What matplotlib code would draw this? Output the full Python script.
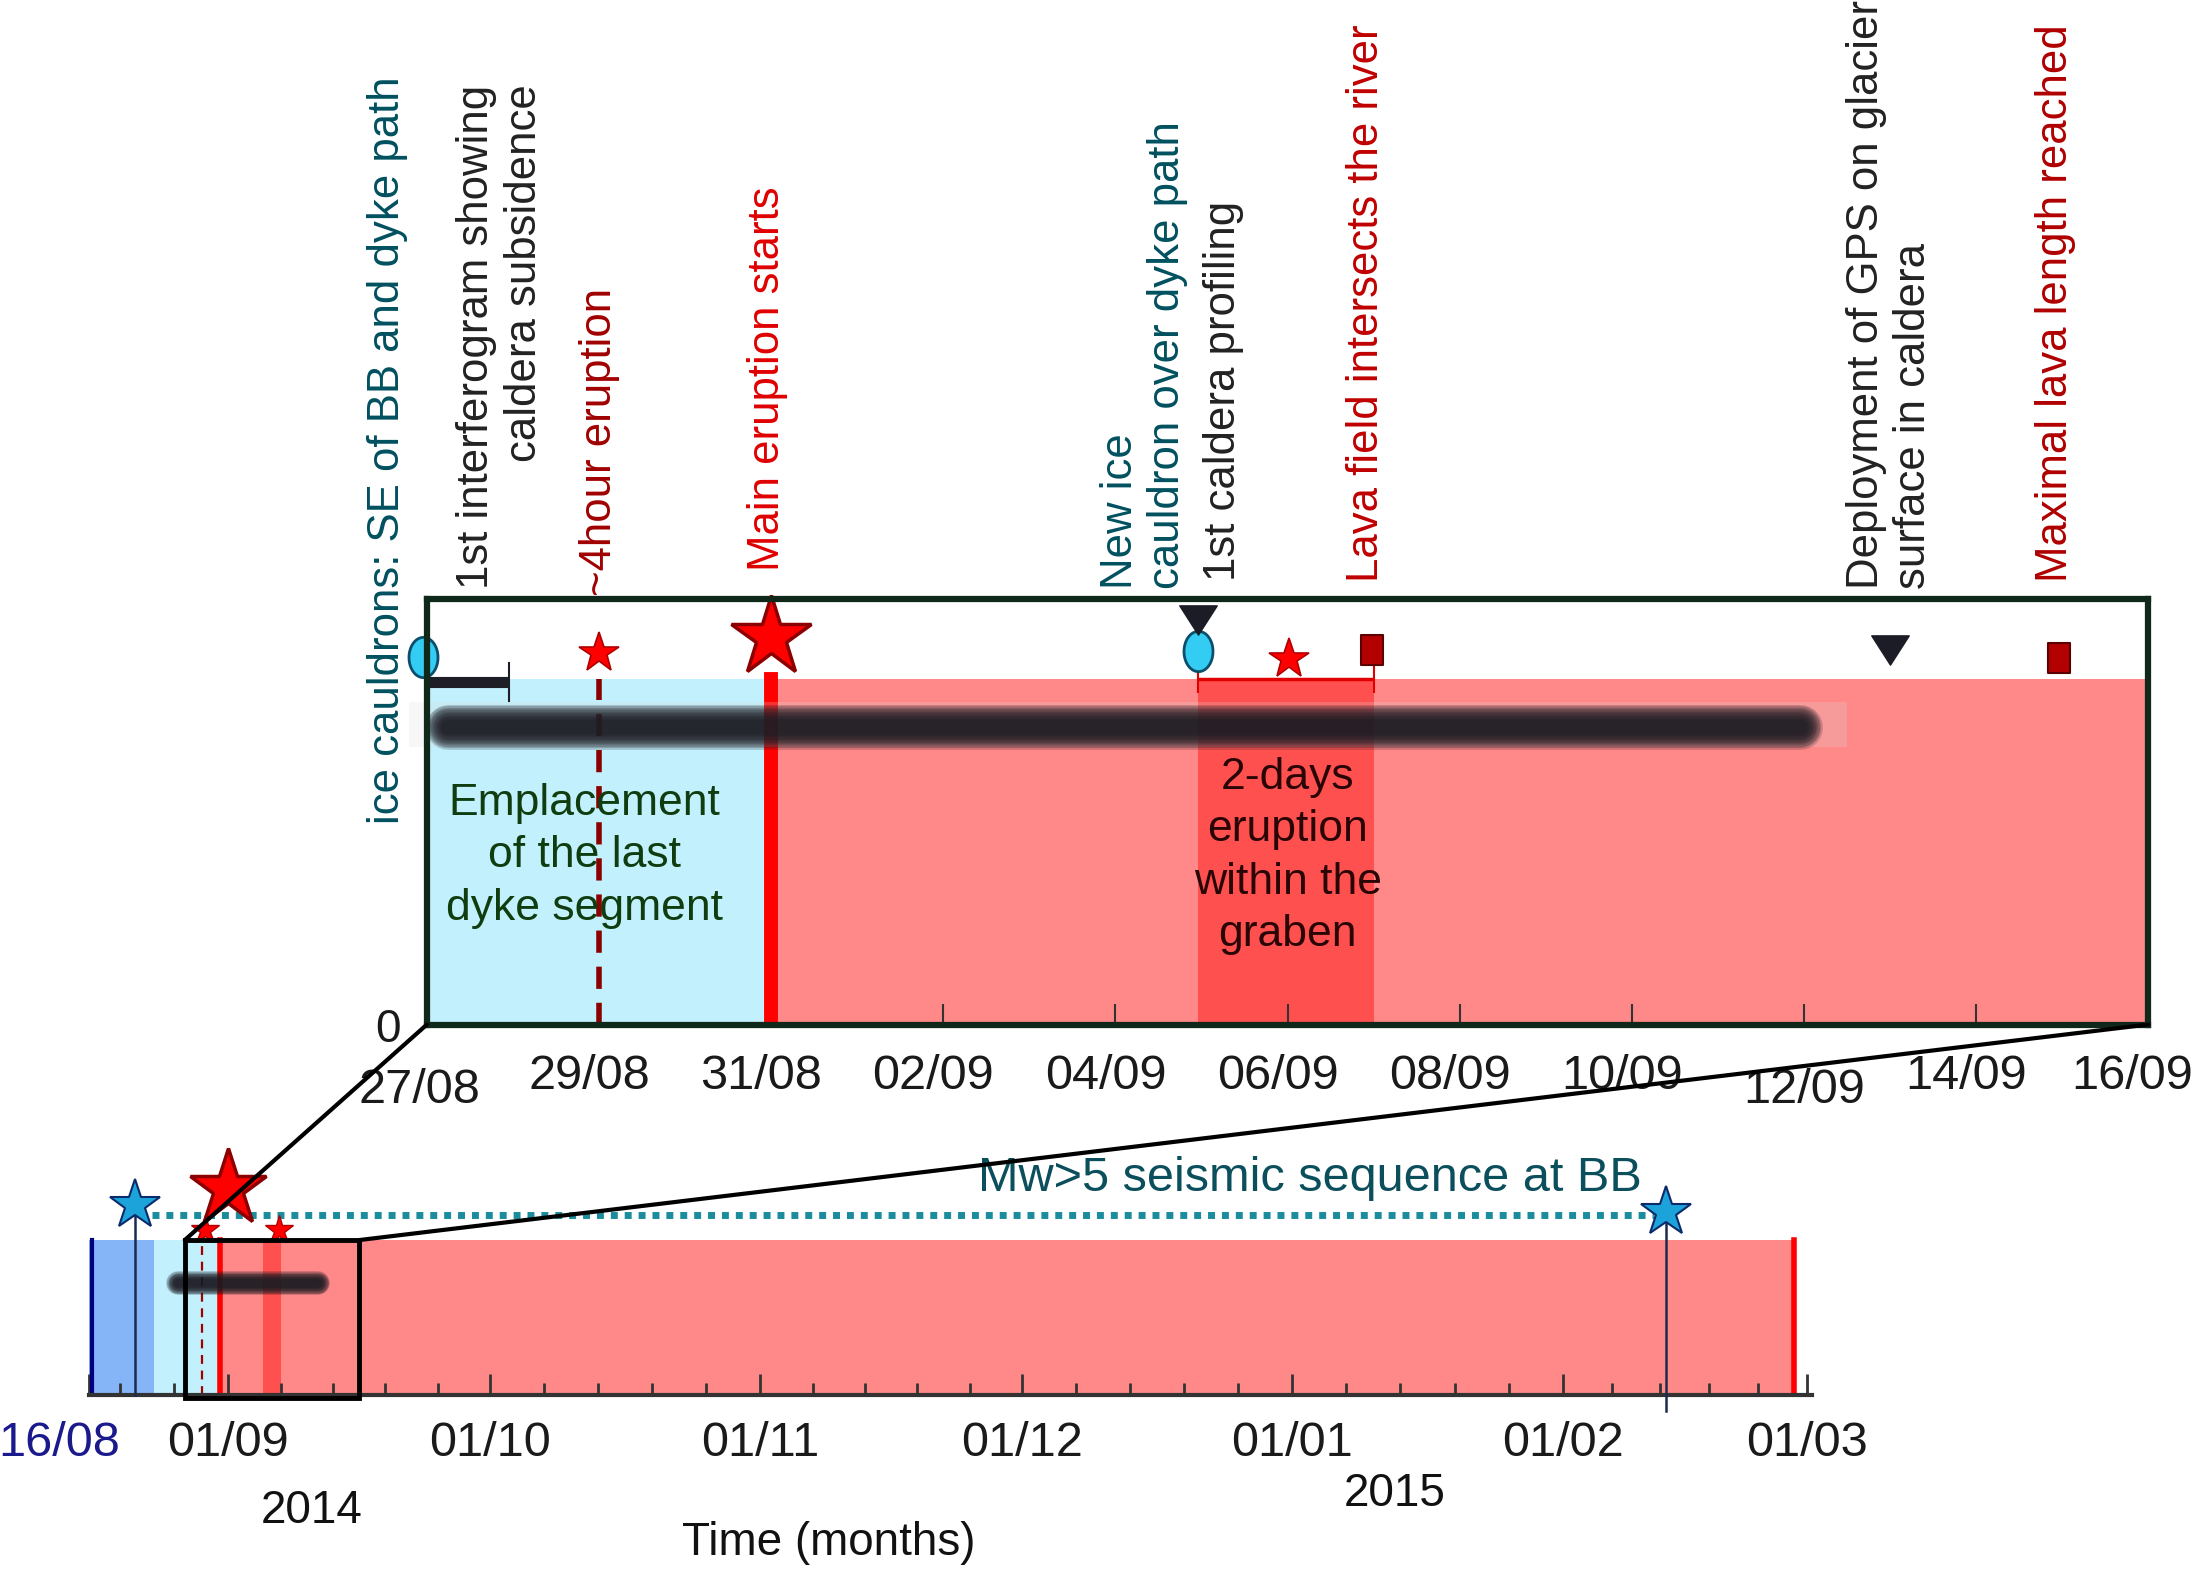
import matplotlib
matplotlib.use('Agg')
import numpy as np
import matplotlib.pyplot as plt
import matplotlib.dates as mdates
from matplotlib.path import Path
from matplotlib.patches import Rectangle, ConnectionPatch
from matplotlib.transforms import ScaledTranslation, blended_transform_factory

plt.rcParams['font.family'] = ['Liberation Sans', 'DejaVu Sans']

# ------------------------------------------------------------------ data
# overview (lower) axis
overview_start = '2014-08-16'
overview_end = '2015-03-01 15:00'
overview_tick_dates = ['2014-08-16', '2014-09-01', '2014-10-01', '2014-11-01',
                       '2014-12-01', '2015-01-01', '2015-02-01', '2015-03-01']
overview_tick_labels = ['16/08', '01/09', '01/10', '01/11', '01/12', '01/01', '01/02', '01/03']
month_starts = ['2014-08-01', '2014-09-01', '2014-10-01', '2014-11-01', '2014-12-01',
                '2015-01-01', '2015-02-01', '2015-03-01']

# phases (start, end)
pre_phase = ('2014-08-16', '2014-08-23 10:00')
dyke_phase = ('2014-08-23 10:00', '2014-08-31')
main_eruption = ('2014-08-31', '2015-02-27 12:00')
graben_eruption = ('2014-09-04 23:00', '2014-09-07 00:00')
intrusion_start = '2014-08-16 10:00'
short_eruption = '2014-08-29'
overview_big_star = '2014-09-01'
overview_small_stars = ['2014-08-29 08:00', '2014-09-06 18:00']
seismic_stars = ['2014-08-21 08:00', '2015-02-12 21:00']
seismic_line = ('2014-08-23 06:00', '2015-02-11 12:00')
blur_overview = ('2014-08-26 06:00', '2014-09-11 06:00')

# inset (zoom) window
inset_start = '2014-08-27'
inset_end = '2014-09-16'
inset_tick_dates = ['2014-08-27', '2014-08-29', '2014-08-31', '2014-09-02', '2014-09-04',
                    '2014-09-06', '2014-09-08', '2014-09-10', '2014-09-12', '2014-09-14',
                    '2014-09-16']
inset_tick_labels = ['27/08', '29/08', '31/08', '02/09', '04/09', '06/09', '08/09',
                     '10/09', '12/09', '14/09', '16/09']

# inset events
cauldron_dates = ['2014-08-26 23:00', '2014-09-04 23:00']
cauldron_y = [0.864, 0.877]
triangle_dates = ['2014-09-04 23:00', '2014-09-13 00:00']
triangle_y = [0.95, 0.88]
square_dates = ['2014-09-06 23:30', '2014-09-14 23:00']
square_y = [0.88, 0.86]
small_star_dates = ['2014-08-29 00:00', '2014-09-06 00:30']
small_star_y = [0.874, 0.858]
big_star_date = '2014-08-31'
big_star_y = 0.91
interferogram_bar = ('2014-08-27', '2014-08-27 23:00')
blur_inset = ('2014-08-27 06:00', '2014-09-11 23:00')

inset_labels = [
    "ice cauldrons: SE of BB and dyke path",
    "1st interferogram showing\ncaldera subsidence",
    "~4hour eruption",
    "Main eruption starts",
    "New ice\ncauldron over dyke path",
    "1st caldera profiling",
    "Lava field intersects the river",
    "Deployment of GPS on glacier\nsurface in caldera",
    "Maximal lava length reached",
]
inset_label_dates = ['2014-08-26 13:00', '2014-08-27 20:30', '2014-08-29 00:00',
                     '2014-08-30 23:00', '2014-09-04 08:00', '2014-09-05 06:00',
                     '2014-09-06 22:00', '2014-09-13 00:00', '2014-09-14 22:00']

TEAL = '#00505f'
DARK = '#222222'
inset_label_colors = [TEAL, DARK, '#a00000', '#e00000', TEAL, DARK, '#c00000', DARK, '#b00000']
inset_label_y = [0.47, 2.209, 1.008, 1.066, 1.023, 1.043, 1.040, 1.023, 1.040]
inset_label_va = ['bottom', 'top', 'bottom', 'bottom', 'bottom', 'bottom', 'bottom', 'bottom', 'bottom']
inset_label_ma = ['left', 'right', 'left', 'left', 'left', 'left', 'left', 'left', 'left']


def d(s):
    return mdates.date2num(np.datetime64(s))


# ------------------------------------------------------------------ colors
LIGHT_BLUE = '#c2f0fc'
PRE_BLUE = '#86b5f7'
PINK = '#ff8888'
DARK_PINK = '#ff5050'
RED = '#ff0000'
DARKRED = '#8b0000'
STAR_BLUE = '#1ca3da'

# custom markers
th = np.linspace(0, 2 * np.pi, 80)
ellipse_marker = Path(np.column_stack([0.72 * np.cos(th), np.sin(th)]), closed=False)
tri_marker = Path([(-1, 0.78), (1, 0.78), (0, -0.78), (-1, 0.78)], closed=True)
rect_marker = Path([(-0.7, -1), (0.7, -1), (0.7, 1), (-0.7, 1), (-0.7, -1)], closed=True)


def blur_bar(axis, x0, x1, y, core, **kw):
    widths = np.linspace(core * 1.9, core * 0.6, 12)
    for w in widths:
        axis.plot([d(x0), d(x1)], [y, y], lw=w, color='#1b1b22', alpha=0.2,
                  solid_capstyle='round', **kw)


fig = plt.figure(figsize=(22.04, 15.74), dpi=100)

# ================================================================== overview axes
ax = fig.add_axes([0.0403, 0.1137, 0.7820, 0.1526])
ax.set_xlim(d(overview_start), d(overview_end))
ax.set_ylim(0, 1.55)
for s in ['left', 'top', 'right']:
    ax.spines[s].set_visible(False)
ax.spines['bottom'].set_color('#333333')
ax.spines['bottom'].set_linewidth(3)
ax.set_yticks([])

ax.axvspan(d(pre_phase[0]), d(pre_phase[1]), ymin=0, ymax=1 / 1.55, color=PRE_BLUE, lw=0, zorder=1)
ax.axvspan(d(dyke_phase[0]), d(dyke_phase[1]), ymin=0, ymax=1 / 1.55, color=LIGHT_BLUE, lw=0, zorder=1)
ax.axvspan(d(main_eruption[0]), d(main_eruption[1]), ymin=0, ymax=1 / 1.55, color=PINK, lw=0, zorder=1)
ax.axvspan(d(graben_eruption[0]), d(graben_eruption[1]), ymin=0, ymax=1 / 1.55, color=DARK_PINK, lw=0, zorder=1.1)
ax.plot([d(intrusion_start)] * 2, [0, 1], color='#000080', lw=3, zorder=2)
ax.plot([d(main_eruption[0])] * 2, [0, 1], color=RED, lw=4, zorder=2)
ax.plot([d(main_eruption[1])] * 2, [0, 1], color=RED, lw=4, zorder=2)
ax.plot([d(short_eruption)] * 2, [0, 1], color='#a00000', lw=1.6, ls=(0, (4, 3)), zorder=2)

blur_bar(ax, blur_overview[0], blur_overview[1], 0.72, 9, zorder=3)

# seismic sequence
ax.plot([d(seismic_line[0]), d(seismic_line[1])], [1.164, 1.164], color='#1a8c9c',
        lw=5, ls=(0, (1, 1)), zorder=3, clip_on=False)
ax.plot([d(seismic_stars[0])] * 2, [0, 1.2], color='#1b2a50', lw=1.8, zorder=3, clip_on=False)
ax.plot([d(seismic_stars[1])] * 2, [-0.1, 1.15], color='#1b2a50', lw=1.8, zorder=3, clip_on=False)
ax.plot([d(x) for x in seismic_stars], [1.227, 1.18], ls='none', marker='*', ms=38,
        mfc=STAR_BLUE, mec='#0a2a6a', mew=1.5, zorder=5, clip_on=False)
ax.text(d('2015-01-03'), 1.40, 'Mw>5 seismic sequence at BB', color='#0b4f5c',
        fontsize=35, ha='center', va='center')

# eruption stars
ax.plot([d(x) for x in overview_small_stars], [1.064, 1.064], ls='none', marker='*',
        ms=21, mfc=RED, mec='#b00000', mew=1, zorder=5, clip_on=False)
ax.plot([d(overview_big_star)], [1.336], ls='none', marker='*', ms=58, mfc=RED,
        mec=DARKRED, mew=2.5, zorder=6, clip_on=False)

# zoom box
box = Rectangle((d(inset_start), -0.02), d(inset_end) - d(inset_start), 1.02,
                fill=False, ec='black', lw=3.5, zorder=7, clip_on=False)
ax.add_patch(box)

# ticks
ax.set_xticks([d(x) for x in overview_tick_dates])
ax.set_xticklabels(overview_tick_labels)
mstarts = np.array([d(x) for x in month_starts])
minor = []
for a, b in zip(mstarts[:-1], mstarts[1:]):
    for k in range(1, 5):
        minor.append(a + (b - a) * k / 5)
minor = [m for m in minor if d(overview_start) < m < d(overview_end)]
ax.set_xticks(minor, minor=True)
ax.tick_params(axis='x', which='major', direction='in', length=15, width=2,
               color='#333333', labelsize=35, pad=19, labelcolor='#1a1a1a')
ax.tick_params(axis='x', which='minor', direction='in', length=9, width=2, color='#333333')
lab0 = ax.get_xticklabels()[0]
lab0.set_color('#1a1a8c')
lab0.set_transform(lab0.get_transform() + ScaledTranslation(-0.30, 0, fig.dpi_scale_trans))

fig.text(0.1413, 0.0403, '2014', fontsize=33, ha='center', va='center', color='#111111')
fig.text(0.633, 0.051, '2015', fontsize=33, ha='center', va='center', color='#111111')
fig.text(0.376, 0.0197, 'Time (months)', fontsize=33, ha='center', va='center', color='#111111')

# ================================================================== inset axes
ins = fig.add_axes([0.1937, 0.3491, 0.7810, 0.2704])
ins.set_xlim(d(inset_start), d(inset_end))
ins.set_ylim(0, 1)
for s in ins.spines.values():
    s.set_linewidth(4.5)
    s.set_color('#10281a')
    s.set_zorder(10)

TOP = 0.811
ins.axvspan(d(inset_start), d(main_eruption[0]), ymin=0, ymax=TOP, color=LIGHT_BLUE, lw=0, zorder=1)
ins.axvspan(d(main_eruption[0]), d(inset_end), ymin=0, ymax=TOP, color=PINK, lw=0, zorder=1)
ins.axvspan(d(graben_eruption[0]), d(graben_eruption[1]), ymin=0, ymax=TOP, color=DARK_PINK, lw=0, zorder=1.1)
ins.plot([d(main_eruption[0])] * 2, [0, TOP], color=RED, lw=10, zorder=2)
ins.plot([d(short_eruption)] * 2, [0, TOP], color='#8b0000', lw=4, ls=(0, (4, 2.5)), zorder=2)

# blurred bar + halo
ins.add_patch(Rectangle((d('2014-08-26 19:00'), 0.652), d('2014-09-12 12:00') - d('2014-08-26 19:00'),
                        0.106, fc='#dddddd', alpha=0.22, lw=0, zorder=2.5, clip_on=False))
blur_bar(ins, blur_inset[0], blur_inset[1], 0.70, 17, zorder=3)

# 2-days eruption bar
ins.errorbar([(d(graben_eruption[0]) + d(graben_eruption[1])) / 2], [TOP],
             xerr=[(d(graben_eruption[1]) - d(graben_eruption[0])) / 2], fmt='none',
             ecolor='#e00000', elinewidth=2.5, capsize=10, capthick=1.5, zorder=4)

# interferogram bar
ins.plot([d(interferogram_bar[0]), d(interferogram_bar[1])], [0.805, 0.805], color='#1e1e26',
         lw=8, solid_capstyle='butt', zorder=4, clip_on=False)
ins.plot([d(interferogram_bar[1])] * 2, [0.76, 0.85], color='#1e1e26', lw=1.5, zorder=4)

# markers
ins.plot([d(x) for x in cauldron_dates], cauldron_y, ls='none', marker=ellipse_marker, ms=29,
         mfc='#33ccf2', mec='#0b4f6c', mew=2, zorder=6, clip_on=False)
ins.plot([d(x) for x in triangle_dates], triangle_y, ls='none', marker=tri_marker, ms=27,
         mfc='#1c1c26', mec='#1c1c26', zorder=6, clip_on=False)
ins.plot([d(x) for x in square_dates], square_y, ls='none', marker=rect_marker, ms=22,
         mfc='#b30000', mec='#5a0000', mew=1.5, zorder=6, clip_on=False)
ins.plot([d(x) for x in small_star_dates], small_star_y, ls='none', marker='*', ms=30,
         mfc=RED, mec='#b00000', mew=1.2, zorder=6, clip_on=False)
ins.plot([d(big_star_date)], [big_star_y], ls='none', marker='*', ms=60,
         mfc=RED, mec=DARKRED, mew=2.5, zorder=7, clip_on=False)

# inner texts
ins.text(d('2014-08-28 20:00'), 0.397, 'Emplacement\nof the last\ndyke segment', color='#0f3d0f',
         fontsize=32, ha='center', va='center', linespacing=1.36, zorder=5)
ins.text(d('2014-09-06 00:00'), 0.396, '2-days\neruption\nwithin the\ngraben', color='#2a0505',
         fontsize=32, ha='center', va='center', linespacing=1.36, zorder=5)

# rotated labels above
tr = blended_transform_factory(ins.transData, ins.transAxes)
for txt, dt, col, yy, va, ma in zip(inset_labels, inset_label_dates, inset_label_colors,
                                     inset_label_y, inset_label_va, inset_label_ma):
    ins.text(d(dt), yy, txt, transform=tr, rotation=90, color=col, fontsize=31.5,
             ha='center', va=va, multialignment=ma, clip_on=False)

# ticks
ins.set_xticks([d(x) for x in inset_tick_dates])
ins.set_xticklabels(inset_tick_labels)
ins.tick_params(axis='x', direction='in', length=15, width=1.5, color='#333333',
                labelsize=35, pad=21, labelcolor='#1a1a1a')
ins.set_yticks([0])
ins.set_yticklabels(['0'])
ins.tick_params(axis='y', length=0, labelsize=33, pad=19, labelcolor='#1a1a1a')
for lab in ins.get_xticklabels():
    t = lab.get_text()
    dx, dy = -0.10, 0.0
    if t == '27/08':
        dx, dy = -0.07, -0.14
    elif t == '12/09':
        dx, dy = 0.0, -0.14
    elif t == '16/09':
        dx = -0.16
    lab.set_transform(lab.get_transform() + ScaledTranslation(dx, dy, fig.dpi_scale_trans))

# connection lines
for xd in (inset_start, inset_end):
    con = ConnectionPatch(xyA=(d(xd), 1.0), coordsA=ax.transData,
                          xyB=(d(xd), 0.0), coordsB=ins.transData,
                          color='black', lw=3, zorder=8)
    fig.add_artist(con)

fig.savefig('out.png', dpi=100)
